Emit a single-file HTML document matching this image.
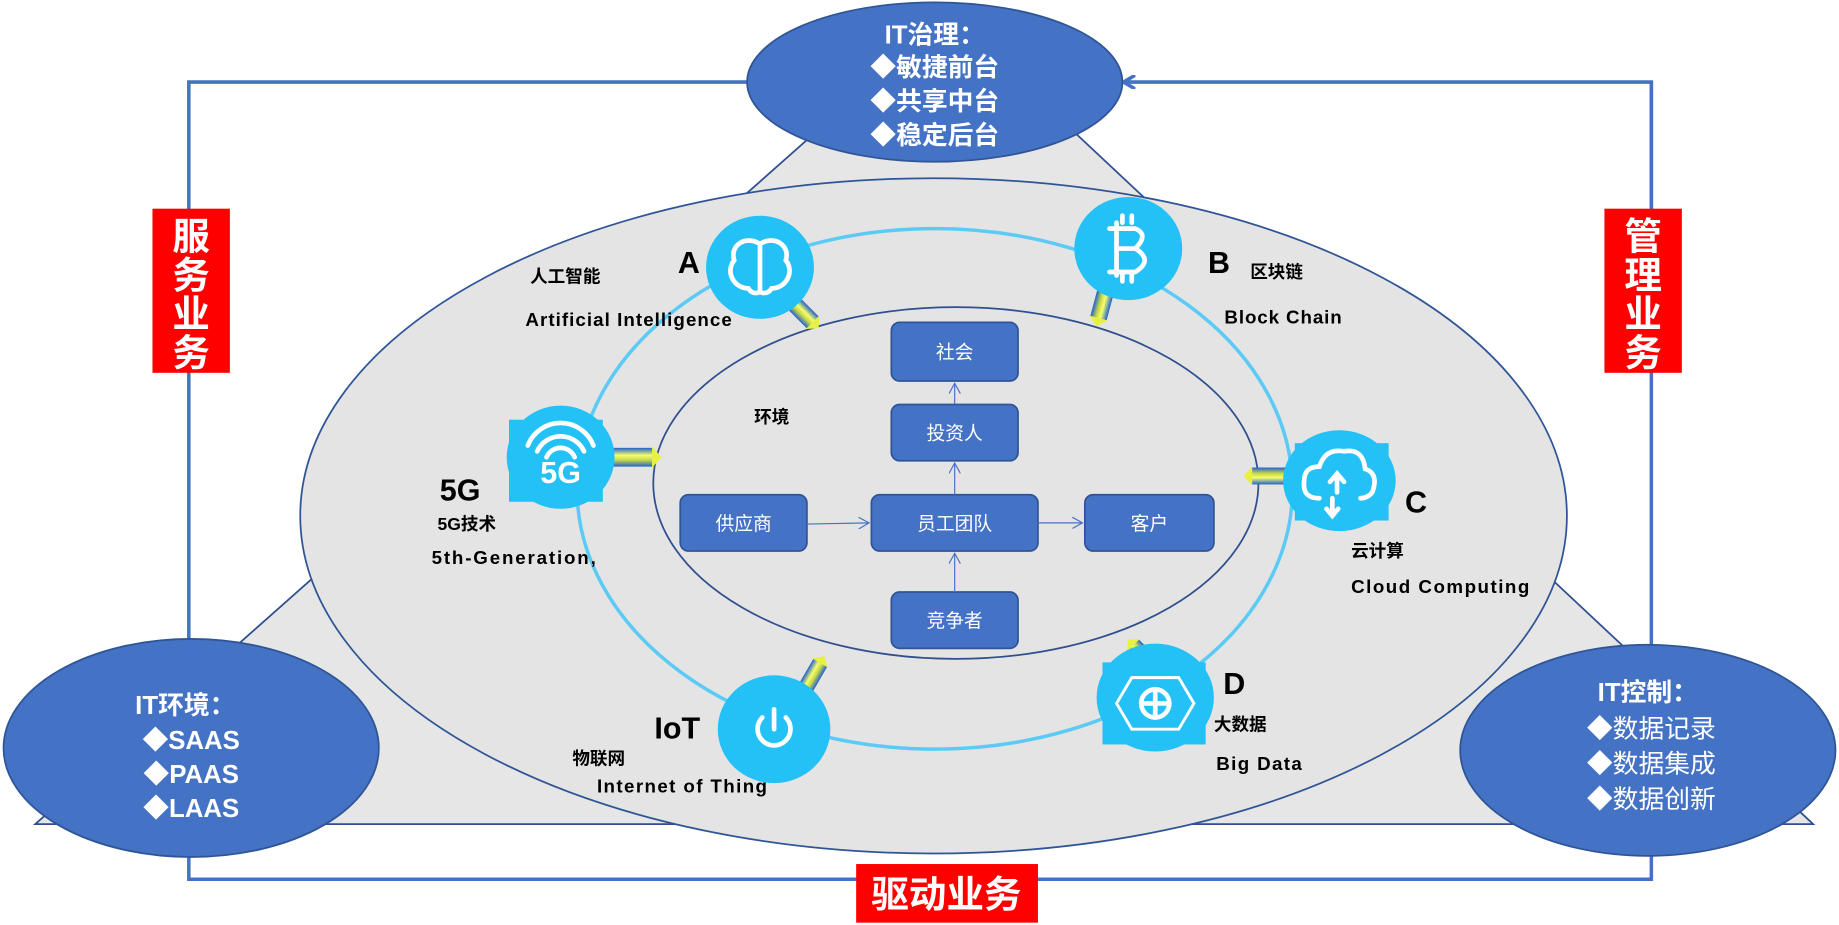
<!DOCTYPE html>
<html><head><meta charset="utf-8"><style>
html,body{margin:0;padding:0;background:#fff;}
svg{display:block;}
text{font-family:"Liberation Sans","Noto Sans CJK SC",sans-serif;}
</style></head><body>
<svg width="1839" height="925" viewBox="0 0 1568 789" preserveAspectRatio="none" xmlns="http://www.w3.org/2000/svg">
<defs>
<linearGradient id="ya" x1="0" y1="0" x2="0" y2="1">
<stop offset="0" stop-color="#1f5fd0"/><stop offset="0.4" stop-color="#f4ff6a"/><stop offset="0.65" stop-color="#c8d84a"/><stop offset="1" stop-color="#1f5fd0"/>
</linearGradient>
<marker id="ah" markerWidth="12" markerHeight="12" refX="10" refY="6" orient="auto" markerUnits="userSpaceOnUse">
<path d="M0,0 L10,6 L0,12" fill="none" stroke="#4472c4" stroke-width="3"/></marker>
<marker id="sa" markerWidth="10" markerHeight="10" refX="9" refY="5" orient="auto" markerUnits="userSpaceOnUse">
<path d="M0,0 L9,5 L0,10" fill="none" stroke="#4472c4" stroke-width="1"/></marker>
<g id="yarrow"><rect x="0" y="-8" width="36" height="16" fill="url(#ya)"/><path d="M36,-9 L44,0 L36,9Z" fill="#e8f040"/></g>
</defs>
<!-- triangle -->
<polygon points="30,703 720,91 880,79 1546,703" fill="#e6e6e6" stroke="#2f4f8f" stroke-width="1.5"/>
<!-- frame lines -->
<polyline points="637,70 161,70 161,562" fill="none" stroke="#4472c4" stroke-width="3" marker-end="url(#ah)"/>
<polyline points="1408,300 1408,70 958,70" fill="none" stroke="#4472c4" stroke-width="3" marker-end="url(#ah)"/>
<polyline points="1408,70 1408,560" fill="none" stroke="#4472c4" stroke-width="3"/>
<polyline points="161,720 161,750 1408,750 1408,718" fill="none" stroke="#4472c4" stroke-width="3" marker-end="url(#ah)"/>
<!-- big ellipse -->
<ellipse cx="796" cy="440" rx="540" ry="288" fill="#e4e4e4" stroke="#2f5597" stroke-width="1.5"/>
<ellipse cx="797" cy="417" rx="305" ry="222" fill="none" stroke="#5bcbf5" stroke-width="3"/>
<ellipse cx="815" cy="412" rx="258" ry="150" fill="#e4e4e4" stroke="#2f4f8f" stroke-width="1.5"/>
<!-- inner boxes -->
<g fill="#4472c4" stroke="#2f5597" stroke-width="1.5">
<rect x="760" y="275" width="108" height="50" rx="7"/>
<rect x="760" y="345" width="108" height="48" rx="7"/>
<rect x="580" y="422" width="108" height="48" rx="7"/>
<rect x="743" y="422" width="142" height="48" rx="7"/>
<rect x="925" y="422" width="110" height="48" rx="7"/>
<rect x="760" y="505" width="108" height="48" rx="7"/>
</g>
<g stroke="#4472c4" stroke-width="1" fill="none" marker-end="url(#sa)">
<line x1="814" y1="345" x2="814" y2="327"/>
<line x1="814" y1="422" x2="814" y2="395"/>
<line x1="814" y1="505" x2="814" y2="472"/>
<line x1="688" y1="447" x2="741" y2="446"/>
<line x1="885" y1="446" x2="923" y2="446"/>
</g>
<g fill="#fff" font-size="16" text-anchor="middle">
<text x="814" y="306">社会</text><text x="814" y="375">投资人</text>
<text x="634" y="452">供应商</text><text x="814" y="452">员工团队</text>
<text x="980" y="452">客户</text><text x="814" y="535">竞争者</text>
</g>
<!-- yellow arrows -->
<use href="#yarrow" transform="translate(670,252) rotate(45) scale(0.9)"/>
<use href="#yarrow" transform="translate(945,240) rotate(105) scale(0.9)"/>
<use href="#yarrow" transform="translate(520,390)"/>
<use href="#yarrow" transform="translate(1100,406) rotate(180) scale(0.9)"/>
<use href="#yarrow" transform="translate(684,592) rotate(-60) scale(0.85)"/>
<use href="#yarrow" transform="translate(988,572) rotate(-135) scale(0.85)"/>
<!-- icon circles -->
<g fill="#23c1f5">
<ellipse cx="648" cy="228" rx="46" ry="44"/>
<ellipse cx="962" cy="212" rx="46" ry="44"/>
<ellipse cx="478" cy="390" rx="46" ry="44"/>
<rect x="434" y="358" width="80" height="70"/>
<ellipse cx="1142" cy="410" rx="48" ry="43"/>
<rect x="1104" y="378" width="80" height="66"/>
<ellipse cx="660" cy="622" rx="48" ry="46"/>
<ellipse cx="985" cy="595" rx="50" ry="46"/>
<rect x="940" y="565" width="88" height="70"/>
</g>
<!-- icon glyphs -->
<g fill="none" stroke="#fff" stroke-width="4" stroke-linecap="round">
<path d="M648,208 C635,200 622,210 626,222 C618,232 626,246 638,246 C642,252 648,250 648,248 Z M648,208 C661,200 674,210 670,222 C678,232 670,246 658,246 C654,252 648,250 648,248Z"/>
<path d="M952,190 L952,235 M946,195 L968,195 Q980,200 968,212 L952,212 M968,212 Q984,222 968,232 L946,232 M957,184 L957,190 M965,184 L965,190 M957,232 L957,240 M965,232 L965,240"/>
<path d="M450,380 A30,30 0 0 1 506,380 M458,385 A22,22 0 0 1 498,385 M466,390 A13,13 0 0 1 490,390"/>
<path d="M1125,425 Q1110,425 1112,410 Q1112,398 1125,398 Q1130,382 1146,385 Q1162,382 1164,400 Q1176,404 1170,420 Q1166,425 1160,425 M1140,420 L1140,405 M1134,411 L1140,404 L1146,411 M1136,425 L1136,440 M1131,434 L1136,440 L1141,434"/>
<path d="M650,612 A14,14 0 1 0 670,612 M660,605 L660,622"/>
<circle cx="985" cy="600" r="12"/><path d="M973,600 L997,600 M985,588 L985,612"/>
<path d="M965,578 L1005,578 L1018,600 L1005,622 L965,622 L952,600Z" stroke-width="2.5"/>
</g>
<text x="478" y="412" fill="#fff" font-size="26" font-weight="bold" text-anchor="middle">5G</text>
<!-- labels -->
<g fill="#000" font-weight="bold">
<text x="578" y="233" font-size="26">A</text>
<text x="1030" y="233" font-size="26">B</text>
<text x="1198" y="437" font-size="26">C</text>
<text x="1043" y="592" font-size="26">D</text>
<text x="375" y="427" font-size="26">5G</text>
<text x="558" y="630" font-size="26">IoT</text>
<text x="452" y="241" font-size="15">人工智能</text>
<text x="448" y="278" font-size="16" textLength="176">Artificial Intelligence</text>
<text x="1066" y="237" font-size="15">区块链</text>
<text x="1044" y="276" font-size="16" textLength="100">Block Chain</text>
<text x="643" y="361" font-size="15">环境</text>
<text x="373" y="452" font-size="15">5G技术</text>
<text x="368" y="481" font-size="16" textLength="140">5th-Generation,</text>
<text x="1152" y="475" font-size="15">云计算</text>
<text x="1152" y="506" font-size="16" textLength="152">Cloud Computing</text>
<text x="1035" y="623" font-size="15">大数据</text>
<text x="1037" y="657" font-size="16" textLength="73">Big Data</text>
<text x="488" y="652" font-size="15">物联网</text>
<text x="509" y="676" font-size="16" textLength="145">Internet of Thing</text>
</g>
<!-- corner ellipses -->
<g fill="#4472c4" stroke="#2f5597" stroke-width="1.5">
<ellipse cx="797" cy="70" rx="160" ry="68"/>
<ellipse cx="163" cy="638" rx="160" ry="93"/>
<ellipse cx="1405" cy="640" rx="160" ry="90"/>
</g>
<g fill="#fff" font-weight="bold" font-size="22" text-anchor="middle">
<text x="797" y="37">IT治理：</text>
<text x="797" y="65">◆敏捷前台</text>
<text x="797" y="94">◆共享中台</text>
<text x="797" y="123">◆稳定后台</text>
<text x="158" y="609">IT环境：</text>
<text x="163" y="639">◆SAAS</text>
<text x="163" y="668">◆PAAS</text>
<text x="163" y="697">◆LAAS</text>
<text x="1405" y="598">IT控制：</text>
</g>
<g fill="#fff" font-size="22" text-anchor="middle">
<text x="1408" y="629">◆数据记录</text>
<text x="1408" y="659">◆数据集成</text>
<text x="1408" y="689">◆数据创新</text>
</g>
<!-- red labels -->
<rect x="130" y="178" width="66" height="140" fill="#ff0000"/>
<rect x="1368" y="178" width="66" height="140" fill="#ff0000"/>
<rect x="730" y="737" width="155" height="50" fill="#ff0000"/>
<g fill="#fff" font-weight="bold" font-size="32" text-anchor="middle">
<text x="163" y="213">服</text><text x="163" y="246">务</text><text x="163" y="279">业</text><text x="163" y="312">务</text>
<text x="1401" y="213">管</text><text x="1401" y="246">理</text><text x="1401" y="279">业</text><text x="1401" y="312">务</text>
<text x="807" y="774">驱动业务</text>
</g>
</svg>
</body></html>
